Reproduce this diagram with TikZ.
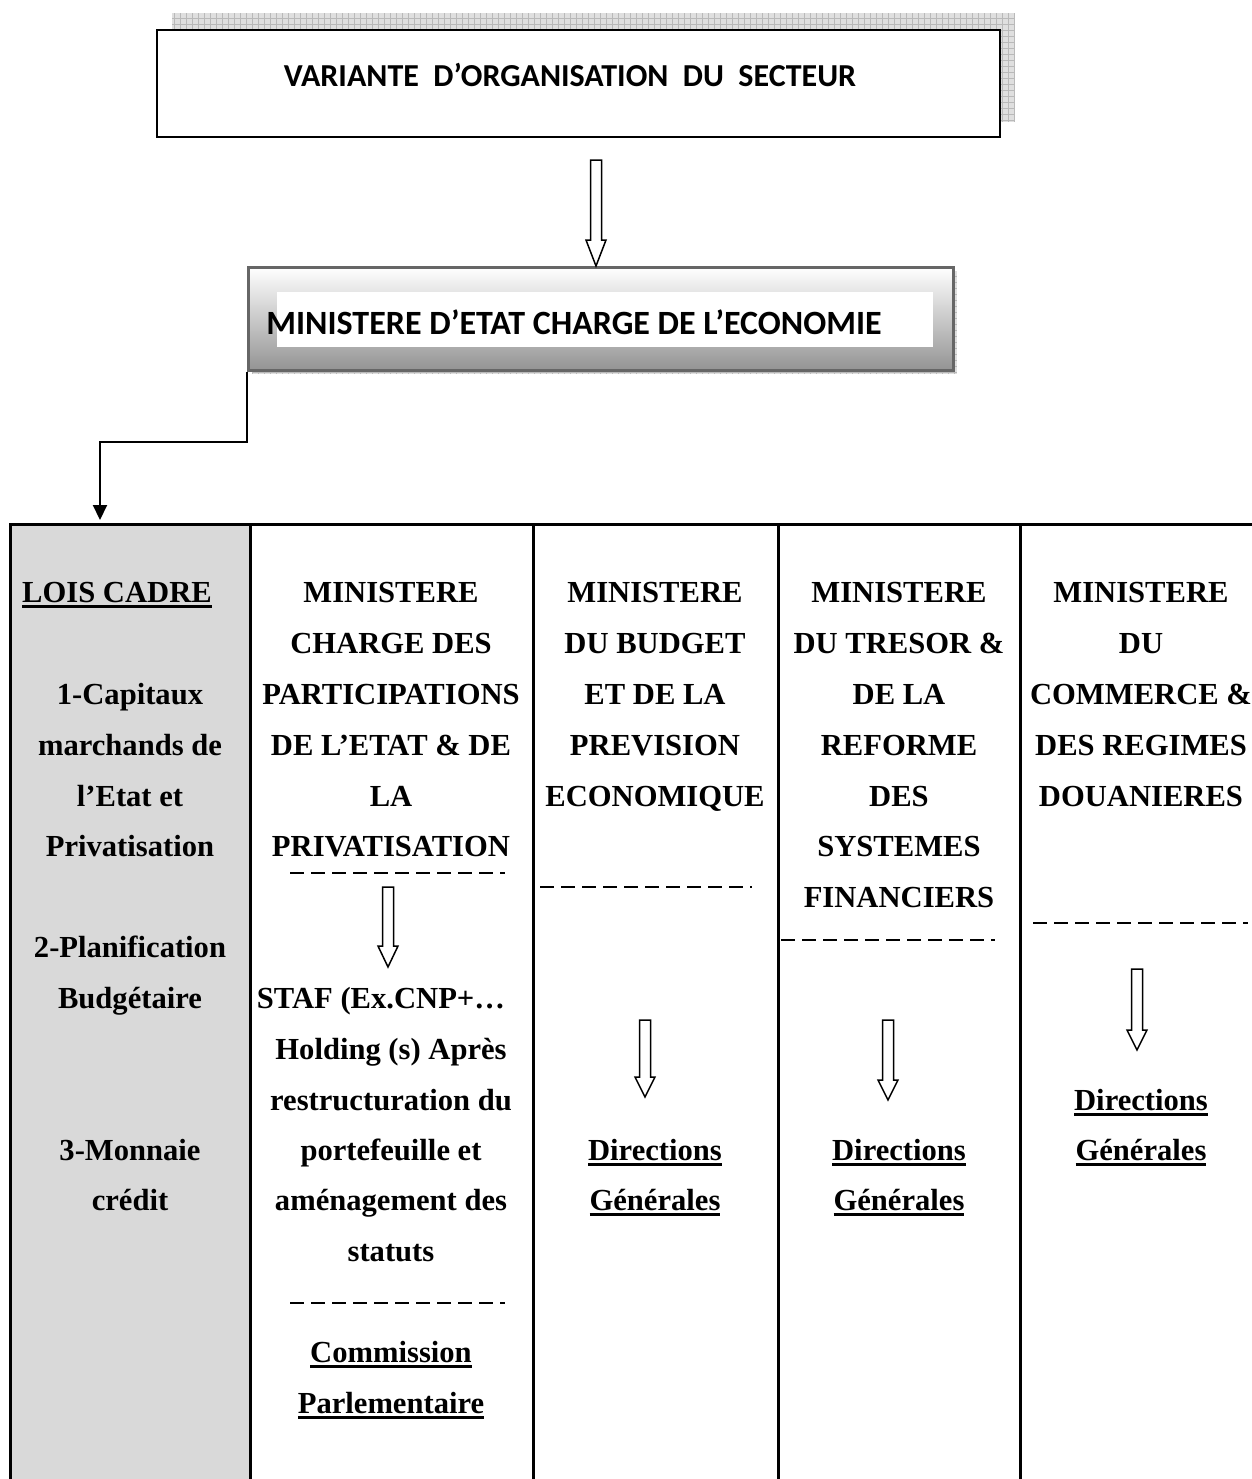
\documentclass[tikz,border=0pt]{standalone}
\usepackage{fontspec}
\setmainfont{Liberation Serif}
\newfontfamily\hdfont{Carlito}
\usetikzlibrary{arrows.meta}

% thick underline just under the baseline
\newsavebox\ulbox
\newcommand\uline[1]{\sbox\ulbox{#1}\rlap{\rule[-2.8pt]{\wd\ulbox}{1.3pt}}\usebox\ulbox}
% one line of table text, given by the centre of its capitals
\newcommand\ctext[4]{\node[cell] (#1) at (#2,#3+10) {#4};}
% hollow block arrow pointing down: name, x, top, tip, head length
\newcommand\hollowdown[5]{%
  \draw[hollow] ({#2-5.5},#3) -- ({#2+5.5},#3) -- ({#2+5.5},{#4-#5}) -- ({#2+10},{#4-#5})
    -- (#2,#4) -- ({#2-10},{#4-#5}) -- ({#2-5.5},{#4-#5}) -- cycle;
  \coordinate (#1) at (#2,#4);}

\begin{document}
\begin{tikzpicture}[x=0.5pt,y=-0.5pt,
  cell/.style={anchor=base, inner sep=0pt, font=\bfseries\fontsize{15.3}{18}\selectfont},
  head/.style={inner sep=0pt, font=\hdfont\bfseries\fontsize{17}{20}\selectfont},
  tabrule/.style={line width=1.5pt},
  sepline/.style={line width=1pt, dash pattern=on 7.2pt off 3.3pt},
  hollow/.style={draw=black, line width=0.75pt, fill=white},
  gridshadow/.style={fill=gray!25},
  gridlines/.style={draw=gray!55, line width=0.25pt}
]
\useasboundingbox (0,0) rectangle (1252,1479);

% ---- title box with its checked shadow ----
\fill[gridshadow] (172,13) rectangle (1015,122);
\draw[gridlines, step=3pt] (172,13) grid (1015,122);
\node[draw=black, line width=0.8pt, fill=white, minimum width=421.5pt, minimum height=53.5pt,
      inner sep=0pt] (vos) at (578.5,83.5) {};
\node[head, font=\hdfont\bfseries\fontsize{16}{20}\selectfont] (vostxt) at (570,75)
  {VARIANTE\ \ D’ORGANISATION\ \ DU\ \ SECTEUR};

% ---- ministry box ----
\fill[gridshadow] (252,271) rectangle (957,374);
\draw[gridlines, step=3pt] (252,271) grid (957,374);
\node[draw=black!60, line width=1.5pt, top color=white, bottom color=black!42,
      minimum width=352.5pt, minimum height=51.5pt, inner sep=0pt] (mec) at (600.5,318.5) {};
\fill[white] (277,292) rectangle (933,347);
\node[head] (mectxt) at (574,322) {MINISTERE D’ETAT CHARGE DE L’ECONOMIE};

% arrow from the title box to the ministry box
\hollowdown{a0}{596}{160}{266}{26}

% ---- table ----
\fill[gray!30] (10,524) rectangle (250,1479);
\draw[tabrule] (10,1479) -- (10,524) -- (1252,524);
\foreach \cx in {250,533,778,1020}
  \draw[tabrule] (\cx,524) -- (\cx,1479);

% elbow connector from the ministry box down to the table
\coordinate (bend) at (100,442);
\coordinate (tgt) at (100,520);
\draw[line width=1pt, -{Triangle[width=7pt,length=7.5pt]}] (mec.south west) |- (bend) -- (tgt);

% column 1
\ctext{a1}{117}{592}{\uline{LOIS CADRE}}
\ctext{a2}{130}{694}{1-Capitaux}
\ctext{a3}{130}{745}{marchands de}
\ctext{a4}{130}{796}{l’Etat et}
\ctext{a5}{130}{846}{Privatisation}
\ctext{a6}{130}{947}{2-Planification}
\ctext{a7}{130}{998}{Budgétaire}
\ctext{a8}{130}{1150}{3-Monnaie}
\ctext{a9}{130}{1200}{crédit}

% column 2
\ctext{b1}{391}{592}{MINISTERE}
\ctext{b2}{391}{643}{CHARGE DES}
\ctext{b3}{391}{694}{PARTICIPATIONS}
\ctext{b4}{391}{745}{DE L’ETAT \& DE}
\ctext{b5}{391}{796}{LA}
\ctext{b6}{391}{846}{PRIVATISATION}
\draw[sepline] (290,873) -- (505,873);
\hollowdown{b7}{388}{887}{967}{21}
\ctext{b8}{381}{998}{STAF (Ex.CNP+…}
\ctext{b9}{391}{1049}{Holding (s) Après}
\ctext{b10}{391}{1100}{restructuration du}
\ctext{b11}{391}{1150}{portefeuille et}
\ctext{b12}{391}{1200}{aménagement des}
\ctext{b13}{391}{1251}{statuts}
\draw[sepline] (290,1303) -- (505,1303);
\ctext{b14}{391}{1352}{\uline{Commission}}
\ctext{b15}{391}{1403}{\uline{Parlementaire}}

% column 3
\ctext{c1}{655}{592}{MINISTERE}
\ctext{c2}{655}{643}{DU BUDGET}
\ctext{c3}{655}{694}{ET DE LA}
\ctext{c4}{655}{745}{PREVISION}
\ctext{c5}{655}{796}{ECONOMIQUE}
\draw[sepline] (540,887) -- (752,887);
\hollowdown{c6}{645}{1020}{1097}{20}
\ctext{c7}{655}{1150}{\uline{Directions}}
\ctext{c8}{655}{1200}{\uline{Générales}}

% column 4
\ctext{d1}{899}{592}{MINISTERE}
\ctext{d2}{899}{643}{DU TRESOR \&}
\ctext{d3}{899}{694}{DE LA}
\ctext{d4}{899}{745}{REFORME}
\ctext{d5}{899}{796}{DES}
\ctext{d6}{899}{846}{SYSTEMES}
\ctext{d7}{899}{897}{FINANCIERS}
\draw[sepline] (781,940) -- (995,940);
\hollowdown{d8}{888}{1020}{1100}{20}
\ctext{d9}{899}{1150}{\uline{Directions}}
\ctext{d10}{899}{1200}{\uline{Générales}}

% column 5
\ctext{e1}{1141}{592}{MINISTERE}
\ctext{e2}{1141}{643}{DU}
\ctext{e3}{1141}{694}{COMMERCE \&}
\ctext{e4}{1141}{745}{DES REGIMES}
\ctext{e5}{1141}{796}{DOUANIERES}
\draw[sepline] (1033,923) -- (1248,923);
\hollowdown{e6}{1137}{969}{1050}{20}
\ctext{e7}{1141}{1100}{\uline{Directions}}
\ctext{e8}{1141}{1150}{\uline{Générales}}
\end{tikzpicture}
\end{document}
